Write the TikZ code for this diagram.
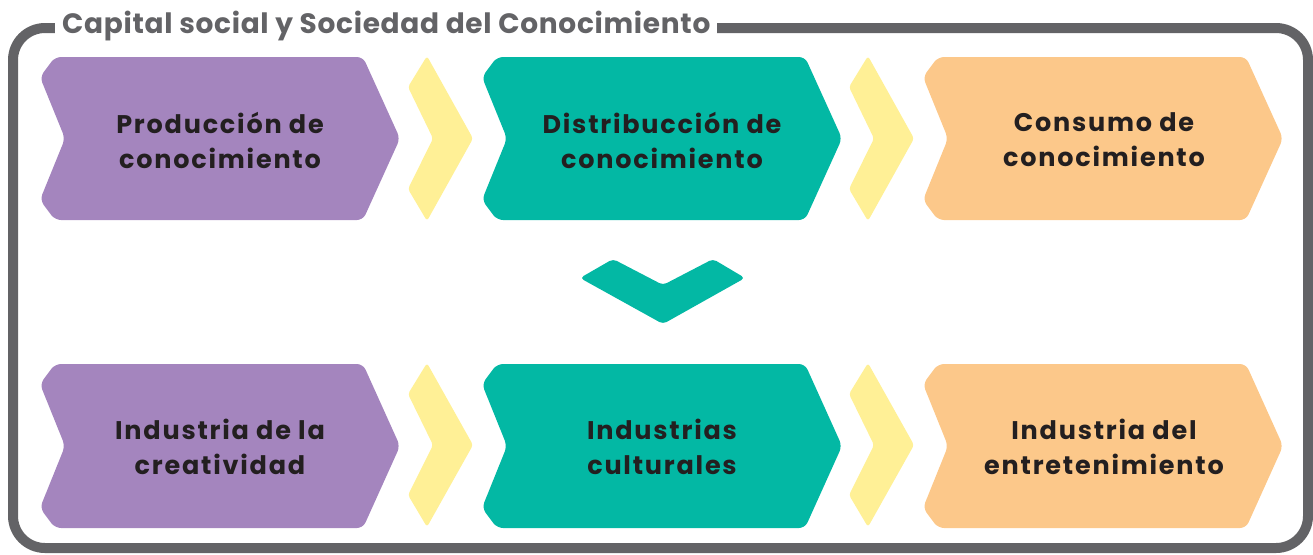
\documentclass[tikz,border=0pt]{standalone}
\usepackage{fontspec}
\setmainfont{Poppins}
\newfontfamily\boxfont[LetterSpace=7]{Poppins}
\newfontfamily\titlefont[LetterSpace=2.5]{Poppins}
\definecolor{cpurple}{RGB}{164,133,190}
\definecolor{cteal}{RGB}{3,184,164}
\definecolor{corange}{RGB}{252,200,138}
\definecolor{cyellow}{RGB}{255,240,150}
\definecolor{cgray}{RGB}{99,99,102}
\definecolor{ctext}{RGB}{35,31,32}
\newcommand\chevbox[4]{%
  \fill[#4, rounded corners=6pt] ({#1-10},#2) -- ({#1+298},#2) -- ({#1+335},{(#2+#3)/2}) -- ({#1+298},#3) -- ({#1-10},#3) -- ({#1-25},{#3-20}) -- (#1,{(#2+#3)/2}) -- ({#1-25},{#2+20}) -- cycle;}
\newcommand\ychev[3]{%
  \fill[cyellow, rounded corners=3pt] ({#1+362},#2) -- ({#1+408},{(#2+#3)/2}) -- ({#1+362},#3) -- ({#1+343},{#3-32}) -- ({#1+368},{(#2+#3)/2}) -- ({#1+343},{#2+31}) -- cycle;}
\tikzset{boxtext/.style={font=\boxfont\bfseries\fontsize{25.5}{35}\selectfont, text=ctext, align=center, inner sep=0pt}}
\begin{document}
\begin{tikzpicture}[x=1pt,y=-1pt]
\useasboundingbox (0,0) rectangle (1313,554);
% frame
\draw[cgray, line width=10pt, rounded corners=32pt] (13,28) rectangle (1308,548);
\node[anchor=base west, fill=white, inner xsep=7pt, inner ysep=3pt, text=cgray, font=\titlefont\bfseries\fontsize{28}{30}\selectfont] (title) at (55,33) {Capital social y Sociedad del Conocimiento};
% row 1
\chevbox{65}{57}{220}{cpurple}
\chevbox{507}{57}{220}{cteal}
\chevbox{948}{57}{220}{corange}
\ychev{65}{56}{221}
\ychev{506}{56}{221}
% row 2
\chevbox{65}{364}{528}{cpurple}
\chevbox{507}{364}{528}{cteal}
\chevbox{948}{364}{528}{corange}
\ychev{65}{363}{527}
\ychev{506}{363}{527}
% down chevron
\fill[cteal, rounded corners=4pt] (580,278) -- (613,259) -- (663,285) -- (713,259) -- (745,278) -- (663,324) -- cycle;
% texts
\node[boxtext] (p1) at (220,140) {Producción de\\conocimiento};
\node[boxtext] (d1) at (662,140) {Distribucción de\\conocimiento};
\node[boxtext] (c1) at (1104,140) {Consumo de\\conocimiento};
\node[boxtext] (p2) at (220,447) {Industria de la\\creatividad};
\node[boxtext] (d2) at (662,447) {Industrias\\culturales};
\node[boxtext] (c2) at (1104,447) {Industria del\\entretenimiento};
\end{tikzpicture}
\end{document}
